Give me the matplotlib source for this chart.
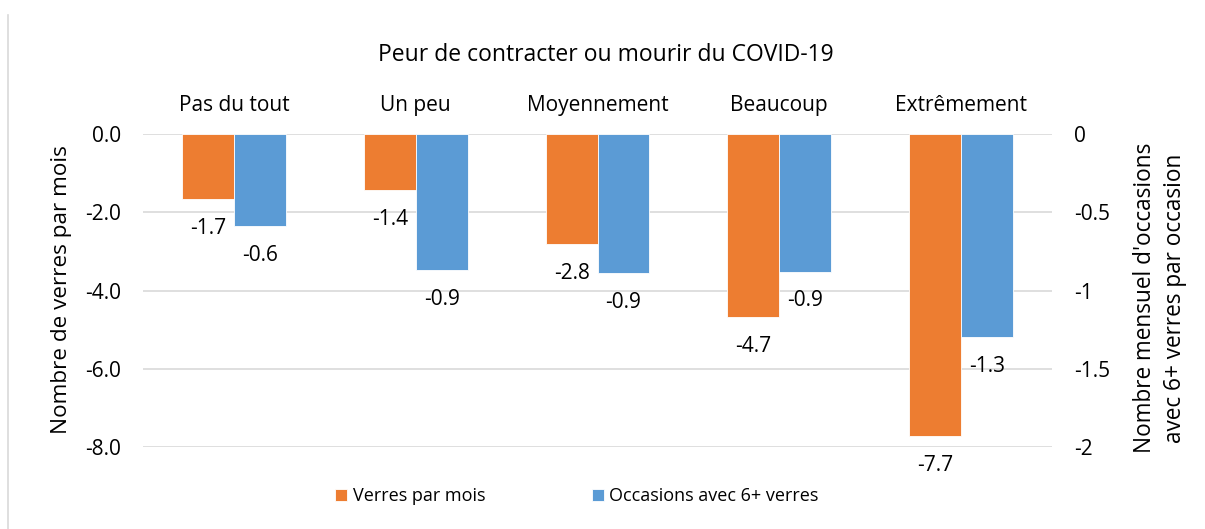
import numpy as np
import matplotlib
matplotlib.use("Agg")
import matplotlib.pyplot as plt
from matplotlib.lines import Line2D

plt.rcParams['font.family'] = ['Open Sans', 'DejaVu Sans']

categories = ["Pas du tout", "Un peu", "Moyennement", "Beaucoup", "Extrêmement"]
verres = [-1.66, -1.43, -2.81, -4.68, -7.72]
verres_labels = ["-1.7", "-1.4", "-2.8", "-4.7", "-7.7"]
occasions = [-0.59, -0.87, -0.89, -0.88, -1.30]
occasions_labels = ["-0.6", "-0.9", "-0.9", "-0.9", "-1.3"]
left_ticks = [0, -2, -4, -6, -8]
right_ticks = [0, -0.5, -1, -1.5, -2]

orange = "#ED7D31"
blue = "#5B9BD5"
grid = "#D9D9D9"
fs = 15

fig = plt.figure(figsize=(12.05, 5.29), dpi=100)
ax = fig.add_axes([143 / 1205, 0.155, (1052 - 143) / 1205, 0.5917])
ax2 = ax.twinx()

x = np.arange(len(categories))
w = 0.285

b1 = ax.bar(x - w / 2, verres, w, color=orange, edgecolor="white", linewidth=0.6, zorder=3)
b2 = ax2.bar(x + w / 2, occasions, w, color=blue, edgecolor="white", linewidth=0.6, zorder=3)

ax.set_xlim(-0.5, len(categories) - 0.5)
ax.set_ylim(-8, 0)
ax2.set_ylim(-2, 0)

ax.set_yticks(left_ticks)
ax.set_yticklabels([f"{v:.1f}" for v in left_ticks], fontsize=fs)
ax2.set_yticks(right_ticks)
ax2.set_yticklabels([f"{v:g}" for v in right_ticks], fontsize=fs)
ax.tick_params(axis="y", length=0, pad=16)
ax2.tick_params(axis="y", length=0, pad=16)

ax.xaxis.tick_top()
ax.set_xticks(x)
ax.set_xticklabels(categories, fontsize=fs)
ax.tick_params(axis="x", length=0, pad=13)

for a in (ax, ax2):
    for s in a.spines.values():
        s.set_visible(False)
ax.grid(axis="y", color=grid, linewidth=1.2, zorder=0)
ax.set_axisbelow(True)

for rect, lab in zip(b1, verres_labels):
    ax.annotate(lab, (rect.get_x() + rect.get_width() / 2, rect.get_height()),
                xytext=(0, -21), textcoords="offset points",
                ha="center", va="center", fontsize=fs)
for rect, lab in zip(b2, occasions_labels):
    ax2.annotate(lab, (rect.get_x() + rect.get_width() / 2, rect.get_height()),
                 xytext=(0, -21), textcoords="offset points",
                 ha="center", va="center", fontsize=fs)

fig.text(606 / 1205, 1 - 55 / 529, "Peur de contracter ou mourir du COVID-19",
         ha="center", va="center", fontsize=16.5)
fig.text(62 / 1205, 1 - 290 / 529, "Nombre de verres par mois", rotation=90,
         ha="center", va="center", fontsize=16.2)
fig.text(1160 / 1205, 1 - 298 / 529,
         "Nombre mensuel d'occasions\navec 6+ verres par occasion",
         rotation=90, ha="center", va="center", fontsize=16.3, linespacing=1.3)

fig.legend(handles=[b1, b2], labels=["Verres par mois", "Occasions avec 6+ verres"],
           loc="center", bbox_to_anchor=(577 / 1205, 1 - 496 / 529), ncol=2, frameon=False,
           fontsize=13, handlelength=0.66, handleheight=0.66, handletextpad=0.3,
           columnspacing=5.9)

fig.add_artist(Line2D([8 / 1205, 8 / 1205], [0, 1 - 15 / 529], color=grid, linewidth=1.2))

fig.savefig("out.png", dpi=100)
